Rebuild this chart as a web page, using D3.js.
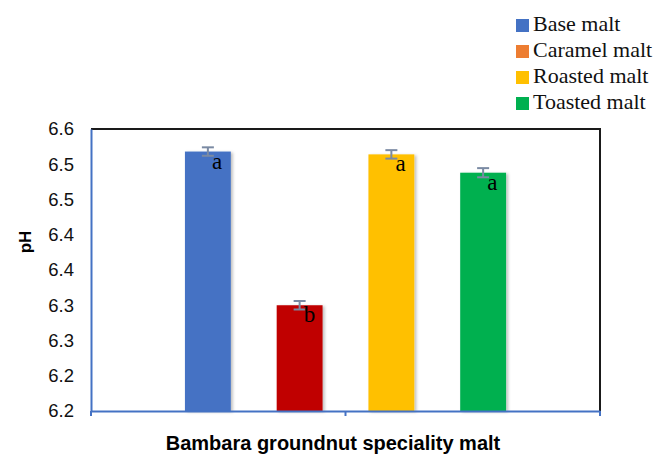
<!DOCTYPE html>
<html>
<head>
<meta charset="utf-8">
<script src="https://cdn.jsdelivr.net/npm/d3@7"></script>
<style>
  html, body { margin: 0; padding: 0; background: #fff; }
  svg { display: block; }
</style>
</head>
<body>
<svg id="chart" width="654" height="455"></svg>
<script>
// ---- data ----
const categories = ["Bambara groundnut speciality malt"];
const series = ["Base malt", "Caramel malt", "Roasted malt", "Toasted malt"];
const values = [6.568, 6.350, 6.564, 6.538];
const errors = [0.006, 0.006, 0.006, 0.0065];
const letters = ["a", "b", "a", "a"];
const barColors = ["#4472c4", "#c00000", "#ffc000", "#00b050"];
const legendColors = ["#4472c4", "#ed7d31", "#ffc000", "#00b050"];
const yTickValues = [6.20, 6.25, 6.30, 6.35, 6.40, 6.45, 6.50, 6.55, 6.60];
const yTickLabels = ["6.2", "6.2", "6.3", "6.3", "6.4", "6.4", "6.5", "6.5", "6.6"];

// ---- layout ----
const svg = d3.select("#chart");
const plot = { left: 91, right: 600, top: 129, bottom: 411 };

const y = d3.scaleLinear().domain([6.2, 6.6]).range([plot.bottom, plot.top]);
const x0 = d3.scaleBand().domain(categories).range([plot.left, plot.right]).padding(0);
const groupInset = 71;
const x1 = d3.scaleBand().domain(series)
  .range([x0(categories[0]) + groupInset, x0(categories[0]) + x0.bandwidth() - groupInset])
  .paddingInner(0.5).paddingOuter(0.25);

// shadow filter
const defs = svg.append("defs");
const f = defs.append("filter").attr("id", "shadow").attr("x", "-20%").attr("y", "-20%").attr("width", "150%").attr("height", "150%");
f.append("feDropShadow").attr("dx", 2).attr("dy", 1).attr("stdDeviation", 1.5).attr("flood-color", "#000").attr("flood-opacity", 0.25);

// bars
const data = series.map((s, i) => ({ s, v: values[i], e: errors[i], l: letters[i], c: barColors[i] }));
svg.append("g").selectAll("rect").data(data).join("rect")
  .attr("x", d => x1(d.s))
  .attr("y", d => y(d.v))
  .attr("width", x1.bandwidth())
  .attr("height", d => y(6.2) - y(d.v))
  .attr("fill", d => d.c)
  .attr("filter", "url(#shadow)");

// frame: top and right black
svg.append("line").attr("x1", plot.left).attr("x2", plot.right + 1).attr("y1", plot.top).attr("y2", plot.top)
  .attr("stroke", "#1a1a1a").attr("stroke-width", 2);
svg.append("line").attr("x1", plot.right).attr("x2", plot.right).attr("y1", plot.top).attr("y2", plot.bottom)
  .attr("stroke", "#1a1a1a").attr("stroke-width", 2);

// y axis
const yAxis = d3.axisLeft(y).tickValues(yTickValues).tickSize(0).tickPadding(17)
  .tickFormat((d, i) => yTickLabels[i]);
const gy = svg.append("g").attr("transform", `translate(${plot.left},0)`).call(yAxis);
gy.select(".domain").attr("stroke", "#4472c4").attr("stroke-width", 2);
gy.selectAll("text").attr("font-family", "'Liberation Sans', Arial, sans-serif").attr("font-size", 18.5).attr("fill", "#111");

// x axis
const xAxis = d3.axisBottom(x0).tickSize(0).tickFormat("");
const gx = svg.append("g").attr("transform", `translate(0,${plot.bottom})`).call(xAxis);
gx.select(".domain").attr("stroke", "#4472c4").attr("stroke-width", 2);
const xTickPos = [plot.left, x0(categories[0]) + x0.bandwidth() / 2, plot.right];
gx.selectAll(".xt").data(xTickPos).join("line").attr("class", "xt")
  .attr("x1", d => d).attr("x2", d => d).attr("y1", 0).attr("y2", 5)
  .attr("stroke", "#4472c4").attr("stroke-width", 2);

// error bars
const eg = svg.append("g").attr("stroke", "#7a8aa3").attr("stroke-width", 2);
data.forEach(d => {
  const cx = x1(d.s) + x1.bandwidth() / 2;
  eg.append("line").attr("x1", cx).attr("x2", cx).attr("y1", y(d.v + d.e)).attr("y2", y(d.v - d.e));
  eg.append("line").attr("x1", cx - 6).attr("x2", cx + 6).attr("y1", y(d.v + d.e)).attr("y2", y(d.v + d.e));
  eg.append("line").attr("x1", cx - 6).attr("x2", cx + 6).attr("y1", y(d.v - d.e)).attr("y2", y(d.v - d.e));
});

// letters
svg.append("g").selectAll("text").data(data).join("text")
  .attr("x", d => x1(d.s) + x1.bandwidth() / 2 + 4)
  .attr("y", d => y(d.v) + 17)
  .attr("font-family", "'Liberation Serif', 'DejaVu Serif', serif")
  .attr("font-size", 23)
  .attr("fill", "#000")
  .text(d => d.l);

// axis titles
svg.append("text").attr("x", 333).attr("y", 450).attr("text-anchor", "middle")
  .attr("font-family", "'Liberation Sans', Arial, sans-serif").attr("font-weight", "bold").attr("font-size", 20)
  .attr("fill", "#000").text(categories[0]);
svg.append("text").attr("transform", "translate(31,242) rotate(-90)").attr("text-anchor", "middle")
  .attr("font-family", "'Liberation Sans', Arial, sans-serif").attr("font-weight", "bold").attr("font-size", 17)
  .attr("fill", "#000").text("pH");

// legend
const lg = svg.append("g").attr("transform", "translate(516,19)");
series.forEach((s, i) => {
  const row = lg.append("g").attr("transform", `translate(0,${i * 26})`);
  row.append("rect").attr("width", 13).attr("height", 13).attr("fill", legendColors[i]);
  row.append("text").attr("x", 17).attr("y", 12)
    .attr("font-family", "'Liberation Serif', 'DejaVu Serif', serif").attr("font-size", 22)
    .attr("fill", "#111").text(s);
});
</script>
</body>
</html>
